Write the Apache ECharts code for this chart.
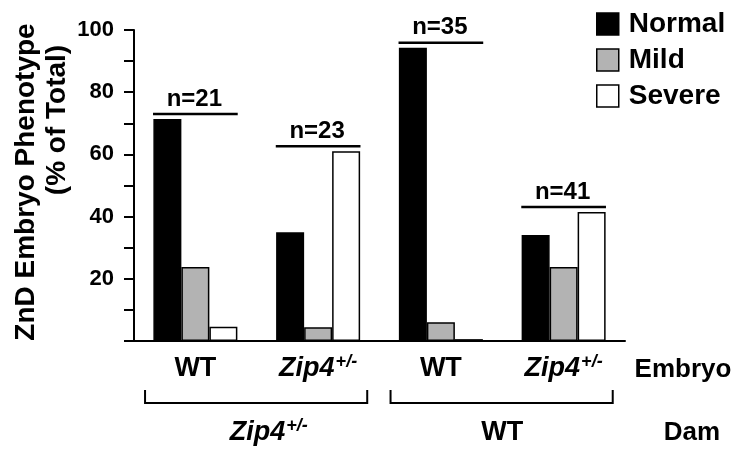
<!DOCTYPE html>
<html>
<head>
<meta charset="utf-8">
<script src="https://cdn.jsdelivr.net/npm/echarts@6/dist/echarts.min.js"></script>
<style>html,body{margin:0;padding:0;background:#fff}#c{width:750px;height:465px}</style>
</head>
<body>
<div id="c"></div>
<script>
const categories = ['WT', 'Zip4+/-', 'WT', 'Zip4+/-'];
const normal = [71.4, 35.0, 94.3, 34.1];
const mild = [23.8, 4.4, 6.0, 23.8];
const severe = [4.6, 61.0, 0.6, 41.5];
const nLabels = ['n=21', 'n=23', 'n=35', 'n=41'];
const damLabels = ['Zip4+/-', 'WT'];
const damSpans = [[0, 1], [2, 3]];
const yTicks = [20, 40, 60, 80, 100];

const FONT = '"Liberation Sans", Arial, Helvetica, sans-serif';
const rich = {
  b: { fontFamily: FONT, fontWeight: 'bold', fontSize: 27, color: '#000', lineHeight: 32 },
  i: { fontFamily: FONT, fontWeight: 'bold', fontStyle: 'italic', fontSize: 27, color: '#000', lineHeight: 32 },
  s: { fontFamily: FONT, fontWeight: 'bold', fontStyle: 'italic', fontSize: 18, color: '#000', lineHeight: 32, padding: [0, 0, 14, 1] }
};
function fmt(v) {
  if (v === 'WT') return '{b|WT}';
  return '{i|Zip4}{s|+/-}';
}

const groupMax = normal.map((v, i) => Math.max(v, mild[i], severe[i]));
const border = { borderColor: '#000', borderWidth: 1.5 };

const chart = echarts.init(document.getElementById('c'));
chart.setOption({
  animation: false,
  backgroundColor: '#fff',
  grid: { left: 134, right: 125, top: 30, bottom: 124, containLabel: false },
  legend: {
    orient: 'vertical', left: 596, top: 10, padding: 0,
    itemWidth: 22, itemHeight: 22, itemGap: 8, icon: 'rect',
    data: ['Normal', 'Mild', 'Severe'],
    itemStyle: { borderColor: '#000', borderWidth: 1.5 },
    textStyle: { fontFamily: FONT, fontWeight: 'bold', fontSize: 28, color: '#000', lineHeight: 22, padding: [0, 0, 0, 5] },
    selectedMode: false
  },
  xAxis: {
    type: 'category', data: categories,
    axisLine: { lineStyle: { color: '#000', width: 2 } },
    axisTick: { show: false },
    axisLabel: { margin: 12, formatter: fmt, rich: rich }
  },
  yAxis: {
    type: 'value', min: 0, max: 100, interval: 10,
    splitLine: { show: false },
    axisLine: { show: true, lineStyle: { color: '#000', width: 2 } },
    axisTick: { show: true, length: 10, lineStyle: { color: '#000', width: 2 } },
    axisLabel: {
      fontFamily: FONT, fontWeight: 'bold', fontSize: 22, color: '#000', margin: 20,
      formatter: v => (yTicks.indexOf(v) >= 0 ? String(v) : '')
    }
  },
  series: [
    { name: 'Normal', type: 'bar', data: normal, barWidth: 28, barGap: '0%', itemStyle: Object.assign({ color: '#000' }, border) },
    { name: 'Mild', type: 'bar', data: mild, barWidth: 28, barGap: '0%', itemStyle: Object.assign({ color: '#b3b3b3' }, border) },
    { name: 'Severe', type: 'bar', data: severe, barWidth: 28, barGap: '0%', itemStyle: Object.assign({ color: '#fff' }, border) },
    {
      type: 'custom', name: 'nlab', clip: false, silent: true,
      data: groupMax.map((m, i) => [i, m]),
      renderItem: function (params, api) {
        const i = api.value(0);
        const p = api.coord([i, api.value(1)]);
        const band = api.size([1, 0])[0];
        const half = band * 0.345;
        const y = p[1] - 5;
        return {
          type: 'group', children: [
            { type: 'line', shape: { x1: p[0] - half, y1: y, x2: p[0] + half, y2: y }, style: { stroke: '#000', lineWidth: 2.5 } },
            { type: 'text', x: p[0] - 1, y: y - 3, style: { text: nLabels[params.dataIndex], fontFamily: FONT, fontWeight: 'bold', fontSize: 24, fill: '#000', align: 'center', verticalAlign: 'bottom' } }
          ]
        };
      }
    },
    {
      type: 'custom', name: 'dam', clip: false, silent: true,
      data: damSpans.map(s => [s[0], s[1]]),
      renderItem: function (params, api) {
        const a = api.coord([api.value(0), 0]);
        const b = api.coord([api.value(1), 0]);
        const band = api.size([1, 0])[0];
        const x1 = a[0] - band * 0.41, x2 = b[0] + band * 0.40;
        const yTop = a[1] + 49, yBot = a[1] + 62;
        const cx = (a[0] + b[0]) / 2;
        return {
          type: 'group', children: [
            { type: 'polyline', shape: { points: [[x1, yTop], [x1, yBot], [x2, yBot], [x2, yTop]] }, style: { stroke: '#000', lineWidth: 2, fill: null } },
            { type: 'text', x: cx + (params.dataIndex === 0 ? 12 : 0), y: a[1] + 92, style: { text: fmt(damLabels[params.dataIndex]), rich: rich, align: 'center', verticalAlign: 'middle' } }
          ]
        };
      }
    }
  ],
  graphic: [
    { type: 'text', x: 26, y: 182, rotation: Math.PI / 2, style: { text: 'ZnD Embryo Phenotype', fontFamily: FONT, fontWeight: 'bold', fontSize: 28, fill: '#000', align: 'center', verticalAlign: 'middle' } },
    { type: 'text', x: 57, y: 120, rotation: Math.PI / 2, style: { text: '(% of Total)', fontFamily: FONT, fontWeight: 'bold', fontSize: 28, fill: '#000', align: 'center', verticalAlign: 'middle' } },
    { type: 'text', x: 683, y: 370, style: { text: 'Embryo', fontFamily: FONT, fontWeight: 'bold', fontSize: 26, fill: '#000', align: 'center', verticalAlign: 'middle' } },
    { type: 'text', x: 692, y: 433, style: { text: 'Dam', fontFamily: FONT, fontWeight: 'bold', fontSize: 26, fill: '#000', align: 'center', verticalAlign: 'middle' } }
  ]
});
</script>
</body>
</html>
